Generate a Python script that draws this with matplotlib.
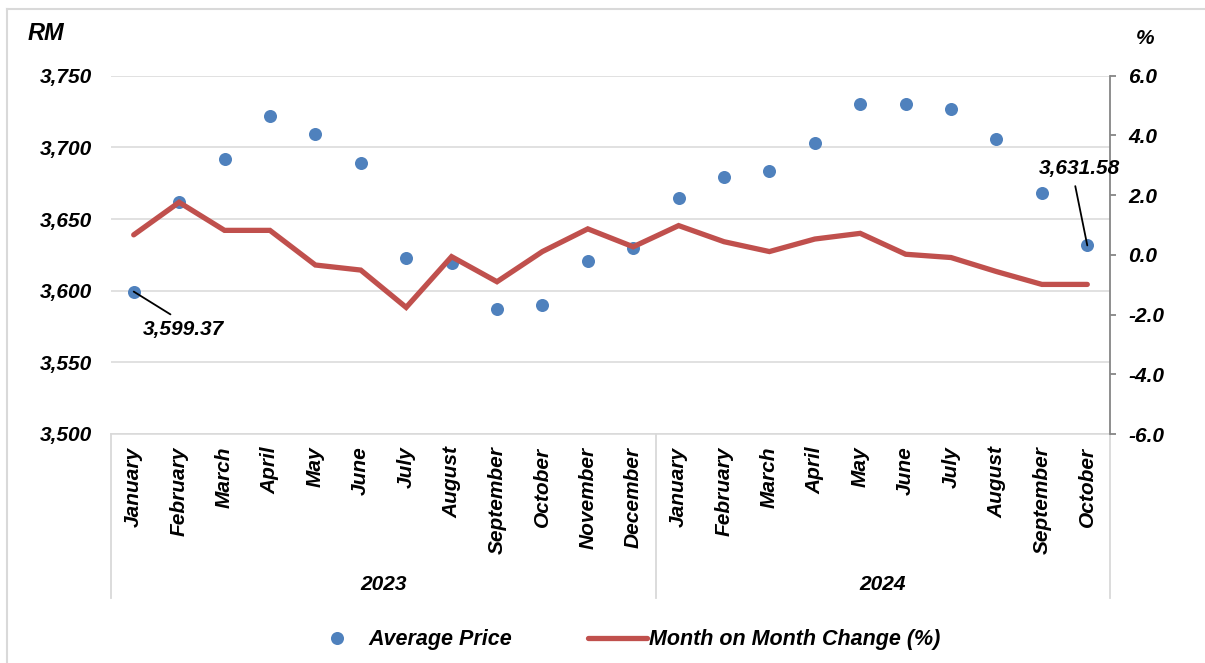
import matplotlib
matplotlib.use("Agg")
import matplotlib.pyplot as plt
from matplotlib.lines import Line2D
from matplotlib.ticker import FuncFormatter, FormatStrFormatter, MultipleLocator

months = ["January", "February", "March", "April", "May", "June", "July",
          "August", "September", "October", "November", "December",
          "January", "February", "March", "April", "May", "June", "July",
          "August", "September", "October"]
years = ["2023", "2024"]
year_counts = [12, 10]

avg_price = [3599.37, 3662.1, 3691.7, 3721.9, 3709.1, 3689.3, 3622.8,
             3619.5, 3587.0, 3590.0, 3621.0, 3629.6,
             3664.4, 3679.5, 3683.7, 3702.8, 3730.5, 3730.5, 3726.5,
             3705.6, 3668.0, 3631.58]
mom_change = [0.67, 1.76, 0.82, 0.82, -0.34, -0.51, -1.76,
              -0.06, -0.90, 0.11, 0.87, 0.27,
              0.98, 0.44, 0.11, 0.53, 0.72, 0.02, -0.09,
              -0.56, -0.99, -0.99]

plt.rcParams['font.family'] = ['Liberation Sans', 'DejaVu Sans']
FS = 15
FONT = dict(fontsize=FS, fontweight='bold', fontstyle='italic', color='black')

W, H = 1205, 663
fig = plt.figure(figsize=(W / 100, H / 100), dpi=100)
fig.patch.set_facecolor('white')

# outer chart border
fig.add_artist(Line2D([7 / W, 7 / W], [0, 1 - 9 / H], color='#d9d9d9', lw=1.5))
fig.add_artist(Line2D([7 / W, 1], [1 - 9 / H, 1 - 9 / H], color='#d9d9d9', lw=1.5))

left, right, top, bottom = 111, 1110, 75.7, 434
ax = fig.add_axes([left / W, 1 - bottom / H, (right - left) / W, (bottom - top) / H])
ax2 = ax.twinx()

x = list(range(len(months)))
grid_c = '#d9d9d9'

# left axis
ax.set_xlim(-0.5, len(months) - 0.5)
ax.set_ylim(3500, 3750)
ax.yaxis.set_major_locator(MultipleLocator(50))
ax.yaxis.set_major_formatter(FuncFormatter(lambda v, p: f"{v:,.0f}"))
ax.grid(axis='y', color=grid_c, lw=1.1)
ax.set_axisbelow(True)
for s in ['left', 'top', 'right']:
    ax.spines[s].set_visible(False)
ax.spines['bottom'].set_color(grid_c)
ax.spines['bottom'].set_linewidth(1.1)
ax.tick_params(axis='y', length=0, pad=13.5)
ax.tick_params(axis='x', length=0, pad=9)
ax.set_xticks(x)
ax.set_xticklabels(months, rotation=90)
for lab in ax.get_xticklabels() + ax.get_yticklabels():
    lab.set_fontsize(FS)
    lab.set_fontweight('bold')
    lab.set_fontstyle('italic')

ax.scatter(x, avg_price, s=88, color='#4f81bd', zorder=3, linewidths=0)

# right axis
ax2.set_ylim(-6, 6)
ax2.yaxis.set_major_locator(MultipleLocator(2))
ax2.yaxis.set_major_formatter(FormatStrFormatter('%.1f'))
for s in ['left', 'top', 'bottom']:
    ax2.spines[s].set_visible(False)
ax2.spines['right'].set_color('#868686')
ax2.spines['right'].set_linewidth(1.3)
ax2.tick_params(axis='y', length=4, width=1.3, color='#868686', direction='out', pad=9)
for lab in ax2.get_yticklabels():
    lab.set_fontsize(FS)
    lab.set_fontweight('bold')
    lab.set_fontstyle('italic')
ax2.plot(x, mom_change, color='#c0504d', lw=3.8, solid_joinstyle='miter',
         solid_capstyle='round', zorder=4)

# multi-level category axis
trans = ax.get_xaxis_transform()
ybot = (bottom - 598) / (bottom - top)
bounds = [-0.5]
for n in year_counts:
    bounds.append(bounds[-1] + n)
for b in bounds:
    ax.add_line(Line2D([b, b], [0, ybot], transform=trans, color=grid_c, lw=1.3, clip_on=False))
for i, yr in enumerate(years):
    cx = (bounds[i] + bounds[i + 1]) / 2
    ax.text(cx, (bottom - 584) / (bottom - top), yr, transform=trans,
            ha='center', va='center', **FONT)

# data labels
ax2.annotate(f"{avg_price[0]:,.2f}", xy=(0, avg_price[0]), xycoords=ax.transData,
             xytext=(50, -38), textcoords='offset pixels', ha='center', va='center',
             arrowprops=dict(arrowstyle='-', color='black', lw=1.3, shrinkA=4, shrinkB=0,
                             relpos=(0.45, 1.0)), zorder=6, **FONT)
ax2.annotate(f"{avg_price[-1]:,.2f}", xy=(len(months) - 1, avg_price[-1]), xycoords=ax.transData,
             xytext=(-8, 77), textcoords='offset pixels', ha='center', va='center',
             arrowprops=dict(arrowstyle='-', color='black', lw=1.3, shrinkA=4, shrinkB=0,
                             relpos=(0.43, 0.0)), zorder=6, **FONT)

# axis unit labels
fig.text(28 / W, 1 - 34 / H, "RM", ha='left', va='center',
         fontsize=17, fontweight='bold', fontstyle='italic')
fig.text(1145 / W, 1 - 38 / H, "%", ha='center', va='center', **FONT)

# legend
handles = [Line2D([], [], marker='o', linestyle='none', markersize=9.4,
                  markerfacecolor='#4f81bd', markeredgewidth=0),
           Line2D([], [], color='#c0504d', lw=3.8, solid_capstyle='round')]
leg = fig.legend(handles, ["Average Price", "Month on Month Change (%)"],
                 loc='center', bbox_to_anchor=(624 / W, 1 - 640 / H), ncol=2,
                 frameon=False, handlelength=2.74, handletextpad=0.12,
                 columnspacing=3.5, prop=dict(size=15.5, weight='bold', style='italic'))

fig.savefig("out.png", dpi=100)
